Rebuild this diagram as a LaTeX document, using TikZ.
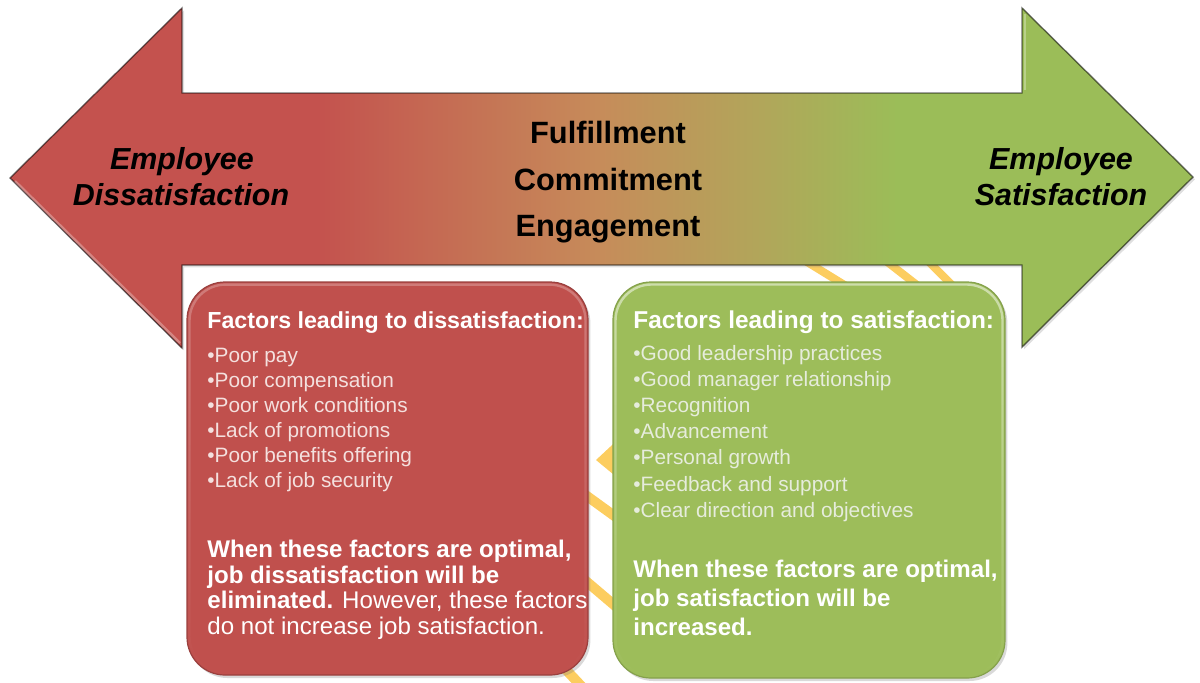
\documentclass[tikz,border=0pt]{standalone}
\usepackage{fontspec}
\setmainfont{Liberation Sans}
\usetikzlibrary{shadows,fadings}

\definecolor{arrowred}{RGB}{196,82,78}
\definecolor{arrowtan}{RGB}{198,140,90}
\definecolor{arrowolive}{RGB}{178,165,90}
\definecolor{arrowgreen}{RGB}{155,189,88}
\definecolor{boxred}{RGB}{192,80,77}
\definecolor{boxgreen}{RGB}{157,189,90}
\definecolor{stripe}{RGB}{252,205,95}
\definecolor{redbullet}{RGB}{244,224,222}
\definecolor{greenbullet}{RGB}{230,236,220}

% red -> tan -> green across the double arrow
\pgfdeclarehorizontalshading{spectrum}{100bp}{%
  color(0bp)=(arrowred); color(38bp)=(arrowred); color(50bp)=(arrowtan);
  color(56.5bp)=(arrowolive); color(62.5bp)=(arrowgreen); color(100bp)=(arrowgreen)}

\tikzset{
  panel/.style={rectangle, rounded corners=19pt, inner sep=0pt, line width=0.6pt,
    drop shadow={shadow xshift=1.2pt, shadow yshift=-1.5pt, opacity=0.3}},
  rim/.style={rectangle, rounded corners=18pt, inner sep=0pt, draw=white,
    line width=1.2pt, path fading=south},
  sidelabel/.style={font=\bfseries\itshape\fontsize{15.2}{18}\selectfont,
    text=black, anchor=base, inner sep=0pt},
  midlabel/.style={font=\bfseries\fontsize{15.4}{18}\selectfont,
    text=black, anchor=base, inner sep=0pt},
  paneltitle/.style={font=\bfseries\fontsize{11.8}{14}\selectfont,
    text=white, anchor=base west, inner sep=0pt},
  bulletline/.style={font=\fontsize{10.4}{12}\selectfont, anchor=base west, inner sep=0pt},
  noteline/.style={font=\fontsize{12.05}{14}\selectfont, text=white,
    anchor=base west, inner sep=0pt},
  boldnote/.style={noteline, font=\bfseries\fontsize{12.05}{14}\selectfont},
  stripeline/.style={draw=stripe, line width=4pt, line cap=butt},
  bandline/.style={draw=stripe, line width=5pt, line cap=butt},
}

\begin{document}
\begin{tikzpicture}[x=0.5pt, y=-0.5pt]
\useasboundingbox (0,0) rectangle (1200,682);

% yellow strokes of the backdrop, mostly hidden behind the shapes
\draw[stripeline] (799,257) -- (851,289);
\draw[stripeline] (881,257) -- (922,289);
\draw[stripeline] (924,257) -- (956,289);
\fill[stripe] (596,460) -- (625,433) -- (625,484) -- cycle;
\draw[bandline] (580,491) -- (620,520);
\draw[bandline] (580,576) -- (620,610);
\draw[bandline] (555,658) -- (585,690);

% double arrow
\shade[shading=spectrum, draw=black, draw opacity=0.55, line width=0.7pt,
       drop shadow={shadow xshift=1pt, shadow yshift=-1.2pt, opacity=0.25}]
  (10,178) -- (182,8) -- (182,93) -- (1022,93) -- (1022,8) -- (1193,177)
  -- (1022,347) -- (1022,265) -- (182,265) -- (182,348) -- cycle;
\draw[white, opacity=0.3, line width=1.2pt] (15,181) -- (180,343);
\draw[white, opacity=0.3, line width=1.2pt] (1025,14) -- (1025,90);

% labels on the arrow
\node[sidelabel] (leftA) at (182,169) {Employee};
\node[sidelabel] (leftB) at (181,205) {Dissatisfaction};
\node[sidelabel] (rightA) at (1061,169) {Employee};
\node[sidelabel] (rightB) at (1061,205) {Satisfaction};
\node[midlabel] (fulfil) at (608,143) {Fulfillment};
\node[midlabel] (commit) at (608,190) {Commitment};
\node[midlabel] (engage) at (608,236) {Engagement};

% the two panels
\node[panel, fill=boxred, draw=boxred!80!black,
      minimum width=200.5pt, minimum height=196.5pt] (redpanel) at (387.5,478.5) {};
\node[rim, draw opacity=0.25, minimum width=198pt, minimum height=194pt]
      (redrim) at (redpanel.center) {};
\node[panel, fill=boxgreen, draw=boxgreen!85!black,
      minimum width=196pt, minimum height=198pt] (greenpanel) at (809,480) {};
\node[rim, draw opacity=0.5, minimum width=193.5pt, minimum height=195.5pt]
      (greenrim) at (greenpanel.center) {};

% dissatisfaction panel text
\node[paneltitle, font=\bfseries\fontsize{11.6}{14}\selectfont] (redtitle) at (207,328)
  {Factors leading to dissatisfaction:};
\foreach \txt [count=\i from 0] in {Poor pay, Poor compensation, Poor work conditions,
    Lack of promotions, Poor benefits offering, Lack of job security}
  \node[bulletline, text=redbullet] (reditem\i) at (207,362+25.1*\i) {•\txt};
\node[boldnote] (rednoteA) at (207,557) {When these factors are optimal,};
\node[boldnote] (rednoteB) at (207,583) {job dissatisfaction will be};
\node[noteline] (rednoteC) at (207,608) {\textbf{eliminated.} However, these factors};
\node[noteline] (rednoteD) at (207,634) {do not increase job satisfaction.};

% satisfaction panel text
\node[paneltitle, font=\bfseries\fontsize{12.2}{14}\selectfont] (greentitle) at (633,328)
  {Factors leading to satisfaction:};
\foreach \txt [count=\i from 0] in {Good leadership practices, Good manager relationship,
    Recognition, Advancement, Personal growth, Feedback and support,
    Clear direction and objectives}
  \node[bulletline, text=greenbullet] (greenitem\i) at (633,360.5+26.1*\i) {•\txt};
\node[boldnote] (greennoteA) at (633,577) {When these factors are optimal,};
\node[boldnote] (greennoteB) at (633,606) {job satisfaction will be};
\node[boldnote] (greennoteC) at (633,635) {increased.};
\end{tikzpicture}
\end{document}
